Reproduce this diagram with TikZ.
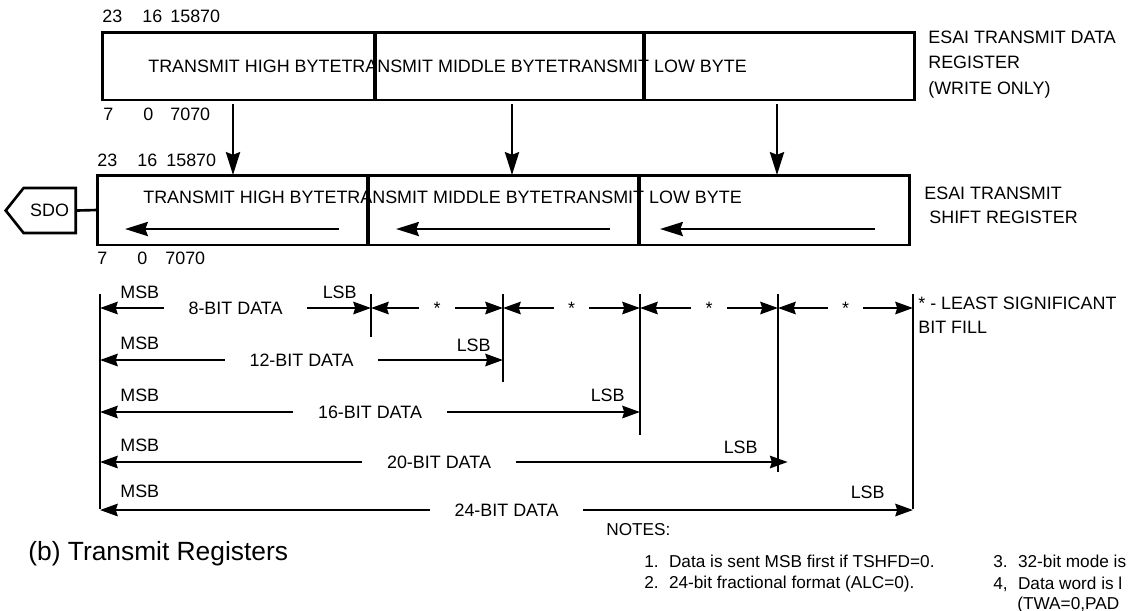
\documentclass[tikz,border=0pt]{standalone}
\usepackage{fontspec}
\setmainfont{Liberation Sans}
\usetikzlibrary{arrows.meta,positioning,shapes.symbols,calc}

\begin{document}
\begin{tikzpicture}[
      x=0.02cm, y=-0.02cm,
      font=\fontsize{10.2}{12}\selectfont,
      cell/.style={draw, line width=1.7pt, inner sep=0pt, outer sep=0pt},
      bits/.style={anchor=west, inner sep=0pt},
      tag/.style={anchor=west, inner sep=0pt},
      arrow/.style={-{Stealth[length=13pt,width=8pt,inset=1.5pt]}, line width=1.6pt},
      dim/.style={-{Stealth[length=10pt,width=7pt,inset=1pt]}, line width=1.5pt},
      dimlabel/.style={inner xsep=14pt, inner ysep=0pt, text height=7.3pt, text depth=0pt},
      starlabel/.style={inner xsep=8pt, inner ysep=0pt, text height=7.3pt, text depth=0pt},
      vline/.style={line width=1.5pt},
      note/.style={anchor=west, inner sep=0pt, align=left, font=\fontsize{9.8}{12}\selectfont},
    ]
    \useasboundingbox (0,0) rectangle (1134,610);

    % transmit data register
    \node[cell, minimum width=5.46cm, minimum height=1.36cm] (tdr-hi) at (238.5,66) {};
    \node[cell, minimum width=5.38cm, minimum height=1.36cm] (tdr-mid) at (509.5,66) {};
    \node[cell, minimum width=5.42cm, minimum height=1.36cm] (tdr-lo) at (779.5,66) {};
    \node[bits] (tdr-text) at (148,66) {TRANSMIT HIGH BYTETRANSMIT MIDDLE BYTETRANSMIT LOW BYTE};
    \node[bits] (tdr-b23) at (102,16) {23};
    \node[bits] (tdr-b16) at (142,16) {16};
    \node[bits] (tdr-b15) at (170,16) {15870};
    \node[bits] (tdr-b7) at (103,114) {7};
    \node[bits] (tdr-b0) at (143,114) {0};
    \node[bits] (tdr-b70) at (170,114) {7070};
    \node[bits, anchor=north west, align=left, font=\fontsize{10.2}{14.5}\selectfont] (tdr-name) at (928,30.5)
      {ESAI TRANSMIT DATA\\REGISTER\\(WRITE ONLY)};

    % transmit shift register
    \node[cell, minimum width=5.42cm, minimum height=1.4cm] (tsr-hi) at (232.5,210) {};
    \node[cell, minimum width=5.42cm, minimum height=1.4cm] (tsr-mid) at (503.5,210) {};
    \node[cell, minimum width=5.42cm, minimum height=1.4cm] (tsr-lo) at (774.5,210) {};
    \node[bits] (tsr-text) at (143,197) {TRANSMIT HIGH BYTETRANSMIT MIDDLE BYTETRANSMIT LOW BYTE};
    \node[bits] (tsr-b23) at (97,160) {23};
    \node[bits] (tsr-b16) at (137,160) {16};
    \node[bits] (tsr-b15) at (166,160) {15870};
    \node[bits] (tsr-b7) at (97,258) {7};
    \node[bits] (tsr-b0) at (137,258) {0};
    \node[bits] (tsr-b70) at (165,258) {7070};
    \node[bits, anchor=north west, align=left, font=\fontsize{10.2}{13.7}\selectfont] (tsr-name) at (924,186.5)
      {ESAI TRANSMIT\\\hspace{0.28em}SHIFT REGISTER};
    \node[draw, signal, signal to=west, signal pointer angle=103, line width=1.5pt,
          minimum width=1.4cm, minimum height=0.9cm, inner sep=0pt, anchor=east] (sdo) at (77,210.5) {SDO};

    \draw[vline] (sdo.east) -- (tsr-hi.west);
    \draw[arrow] ([xshift=-0.11cm,yshift=-2.5pt]tdr-hi.south) -- ([xshift=-0.11cm]tdr-hi.south |- tsr-hi.north);
    \draw[arrow] ([xshift=0.05cm,yshift=-2.5pt]tdr-mid.south) -- ([xshift=0.05cm]tdr-mid.south |- tsr-mid.north);
    \draw[arrow] ([xshift=-0.05cm,yshift=-2.5pt]tdr-lo.south) -- ([xshift=-0.05cm]tdr-lo.south |- tsr-lo.north);
    \draw[arrow] ($(tsr-hi.east)+(-29,19)$) -- ($(tsr-hi.west)+(28,19)$);
    \draw[arrow] ($(tsr-mid.east)+(-29,19)$) -- ($(tsr-mid.west)+(28,19)$);
    \draw[arrow] ($(tsr-lo.east)+(-35,19)$) -- ($(tsr-lo.west)+(21,19)$);

    % data word widths
    \coordinate (v0) at (100,294);
    \coordinate (v8) at (371,294);
    \coordinate (v12) at (503,294);
    \coordinate (v16) at (640,294);
    \coordinate (v20) at (778,294);
    \coordinate (v24) at (913,294);
    \draw[vline] (v0) -- ++(0,215);
    \draw[vline] (v8) -- ++(0,43);
    \draw[vline] (v12) -- ++(0,88);
    \draw[vline] (v16) -- ++(0,141);
    \draw[vline] (v20) -- ++(0,178);
    \draw[vline] (v24) -- ++(0,215);

    \node[dimlabel] (d8) at (235.5,308) {8-BIT DATA};
    \draw[dim] (d8) -- (d8 -| v0);
    \draw[dim] (d8) -- (d8 -| v8);
    \node[tag] (d8-msb) at (120,292) {MSB};
    \node[tag, anchor=east] (d8-lsb) at (357,292) {LSB};

    \node[starlabel] (s1) at (437,308) {*};
    \draw[dim] (s1) -- (s1 -| v8);
    \draw[dim] (s1) -- (s1 -| v12);
    \node[starlabel] (s2) at (571.5,308) {*};
    \draw[dim] (s2) -- (s2 -| v12);
    \draw[dim] (s2) -- (s2 -| v16);
    \node[starlabel] (s3) at (709,308) {*};
    \draw[dim] (s3) -- (s3 -| v16);
    \draw[dim] (s3) -- (s3 -| v20);
    \node[starlabel] (s4) at (845.5,308) {*};
    \draw[dim] (s4) -- (s4 -| v20);
    \draw[dim] (s4) -- (s4 -| v24);
    \node[bits, anchor=north west, align=left, font=\fontsize{10.2}{14}\selectfont] (fill-note) at (918,296.5)
      {* - LEAST SIGNIFICANT\\BIT FILL};

    \node[dimlabel] (d12) at (301.5,360) {12-BIT DATA};
    \draw[dim] (d12) -- (d12 -| v0);
    \draw[dim] (d12) -- (d12 -| v12);
    \node[tag] (d12-msb) at (120,343) {MSB};
    \node[tag, anchor=east] (d12-lsb) at (491,345) {LSB};

    \node[dimlabel] (d16) at (370,412) {16-BIT DATA};
    \draw[dim] (d16) -- (d16 -| v0);
    \draw[dim] (d16) -- (d16 -| v16);
    \node[tag] (d16-msb) at (120,395) {MSB};
    \node[tag, anchor=east] (d16-lsb) at (625,395) {LSB};

    \node[dimlabel] (d20) at (439,462) {20-BIT DATA};
    \draw[dim] (d20) -- (d20 -| v0);
    \draw[dim, shorten >=-5.5pt] (d20) -- (d20 -| v20);
    \node[tag] (d20-msb) at (120,445) {MSB};
    \node[tag, anchor=east] (d20-lsb) at (758,447) {LSB};

    \node[dimlabel] (d24) at (506.5,510) {24-BIT DATA};
    \draw[dim] (d24) -- (d24 -| v0);
    \draw[dim] (d24) -- (d24 -| v24);
    \node[tag] (d24-msb) at (120,491) {MSB};
    \node[tag, anchor=east] (d24-lsb) at (885,492) {LSB};

    % caption and notes
    \node[note, font=\fontsize{15}{17}\selectfont] (caption) at (28,554) {(b) Transmit Registers};
    \node[note] (notes) at (606,530) {NOTES:};
    \node[note] (n1) at (644,561) {1.\hspace{0.6em}Data is sent MSB first if TSHFD=0.};
    \node[note] (n2) at (644,584) {2.\hspace{0.6em}24-bit fractional format (ALC=0).};
    \node[note] (n3) at (993,561) {3.\hspace{0.6em}32-bit mode is};
    \node[note] (n4) at (993,584) {4,\hspace{0.6em}Data word is l};
    \node[note] (n4b) at (1017,605) {(TWA=0,PAD};
  \end{tikzpicture}
\end{document}
